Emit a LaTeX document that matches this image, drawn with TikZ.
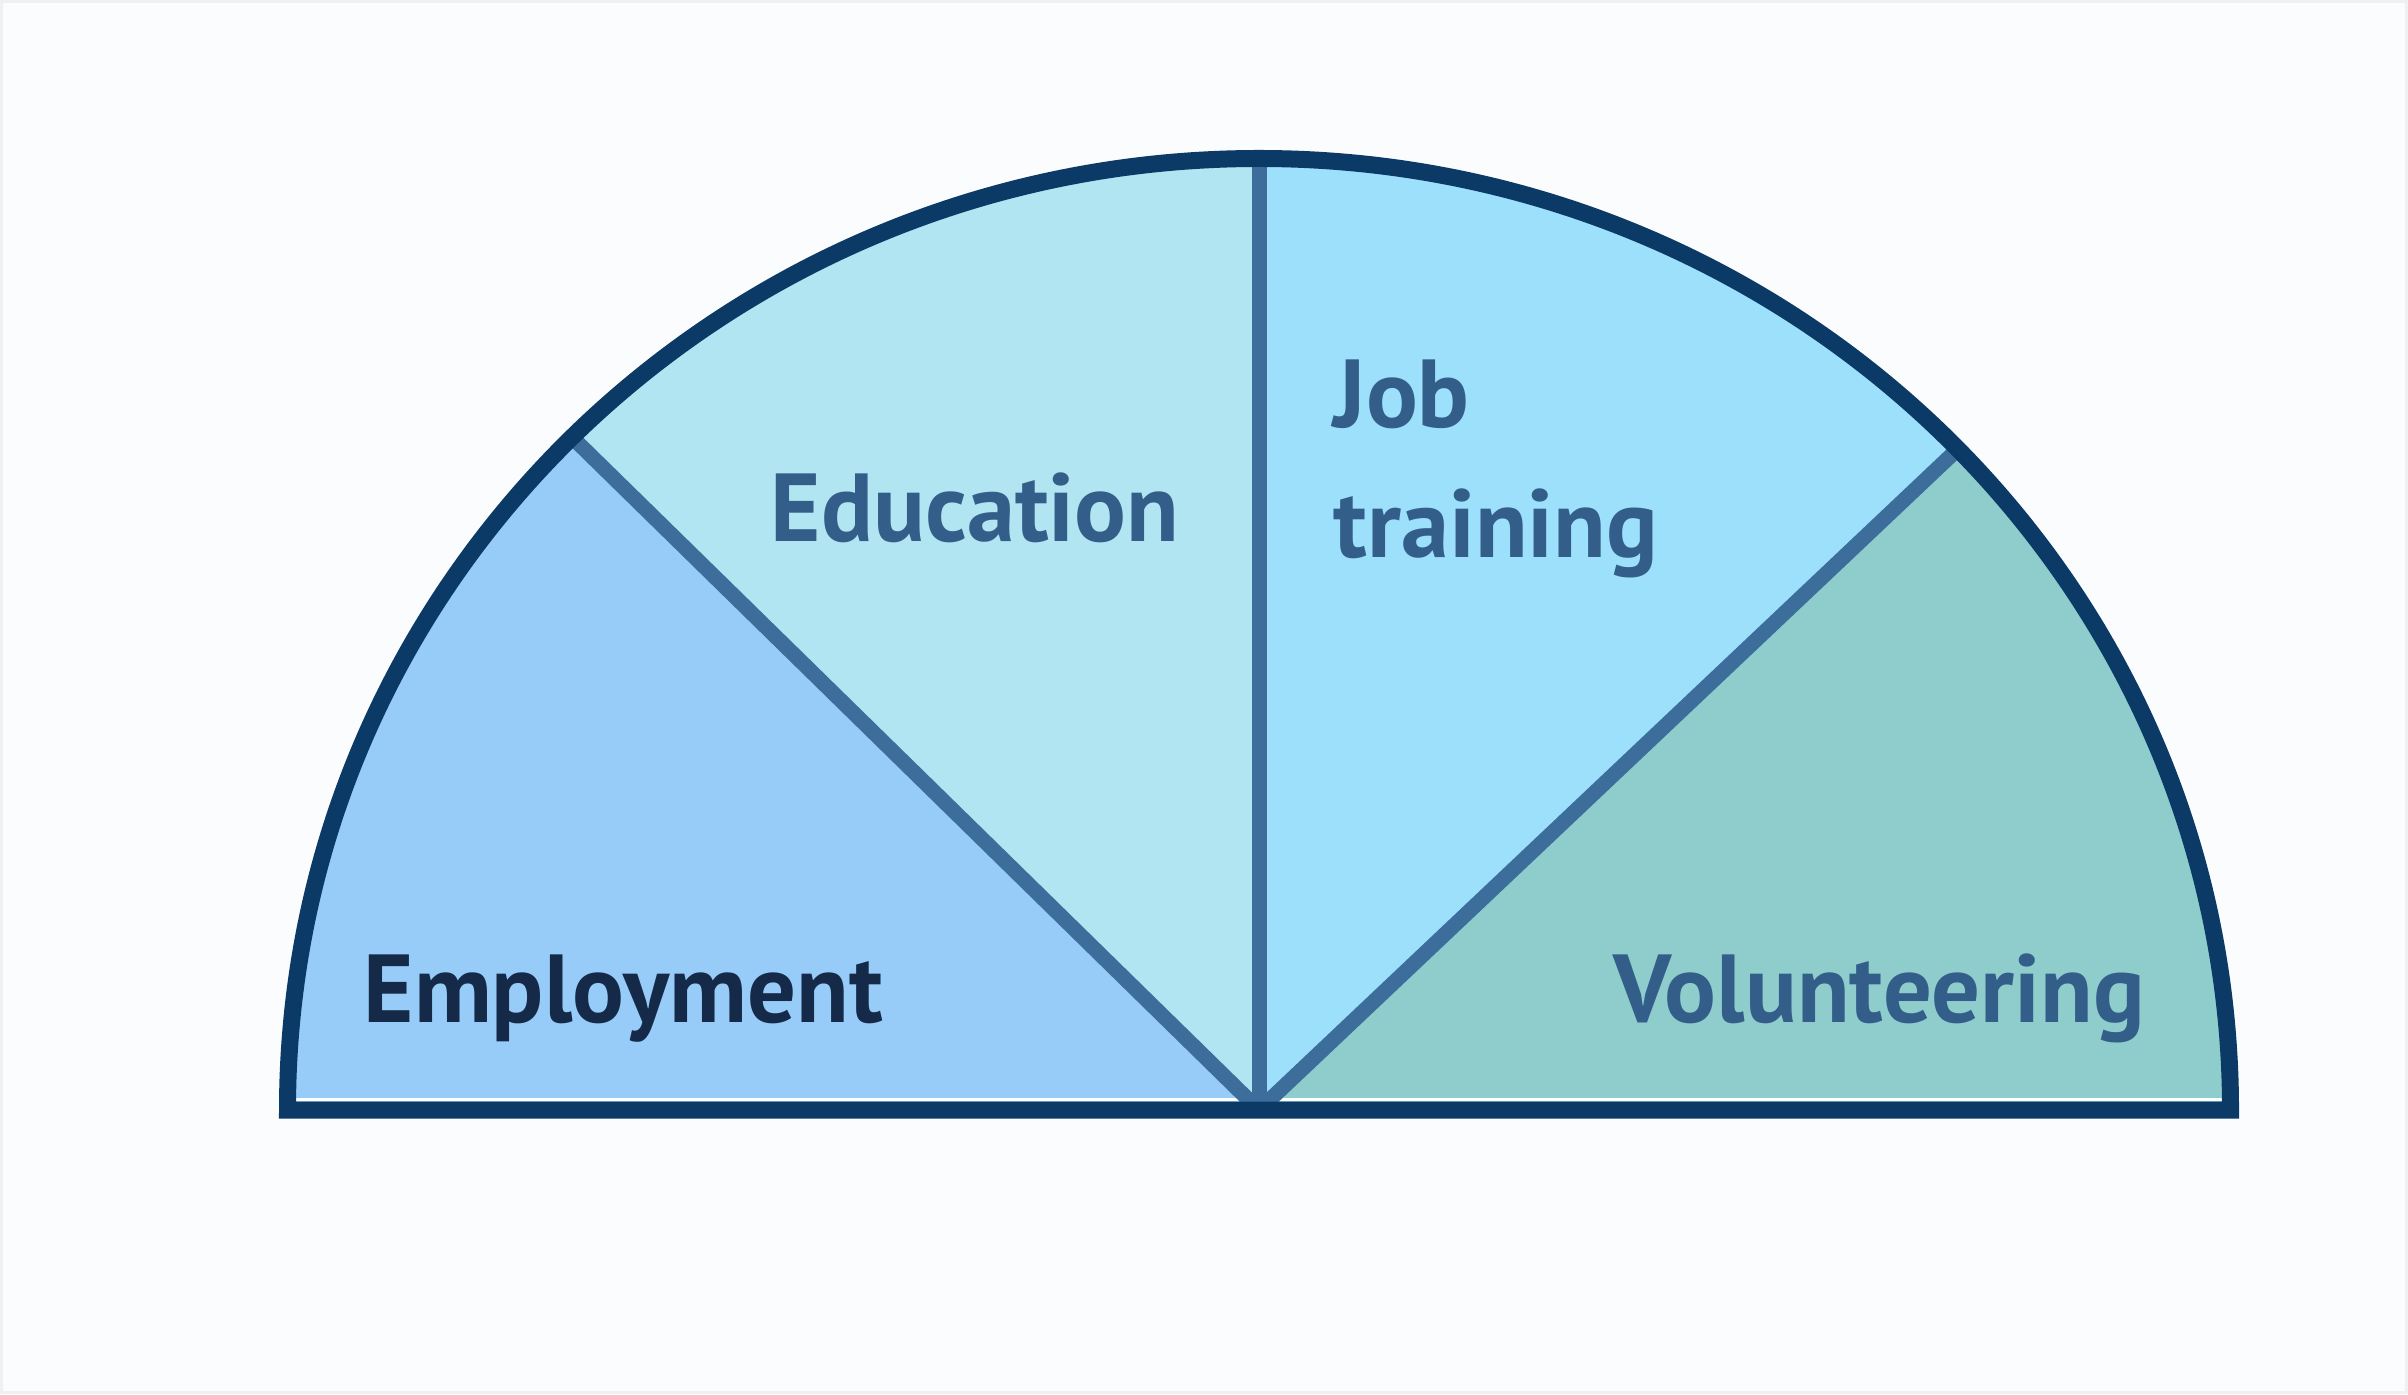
\documentclass[tikz,border=0pt]{standalone}
\usepackage{fontspec}
\setmainfont{PT Sans}
\usepackage{tikz}
\usetikzlibrary{positioning}
\definecolor{paper}{HTML}{FAFCFD}
\definecolor{frame}{HTML}{EEF0F2}
\definecolor{navy}{HTML}{0C3A66}
\definecolor{steel}{HTML}{3D6E9B}
\definecolor{empfill}{HTML}{97CBF8}
\definecolor{edufill}{HTML}{B0E5F1}
\definecolor{jobfill}{HTML}{9CE0FC}
\definecolor{volfill}{HTML}{8FCDCD}
\definecolor{inkdark}{HTML}{142A48}
\definecolor{inkblue}{HTML}{345E8A}
\tikzset{
    rim/.style={draw=navy, line width=0.17cm, line join=miter},
    divider/.style={draw=steel, line width=0.15cm},
    gap/.style={draw=white, line width=0.6pt},
    lbl/.style={anchor=base west, inner sep=0pt, font=\bfseries\fontsize{27.5}{33}\selectfont, text=inkblue}, % sector labels
    arcr/.style={x radius=9.715, y radius=9.515}
}

\begin{document}
\begin{tikzpicture}
        \useasboundingbox[fill=paper] (0,0) rectangle (24.08,13.94);
        \draw[frame, line width=0.03cm] (0.015,0.015) rectangle (24.065,13.925);
        \coordinate (O) at (12.59, 2.84);
        \path (O) ++(0:9.715 and 9.515) coordinate (p0);
        \path (O) ++(44:9.715 and 9.515) coordinate (p44);
        \path (O) ++(90:9.715 and 9.515) coordinate (p90);
        \path (O) ++(135:9.715 and 9.515) coordinate (p135);
        \path (O) ++(180:9.715 and 9.515) coordinate (p180);

        % sectors
        \fill[volfill] (O) -- (p0) arc[start angle=0, end angle=44, arcr] -- cycle;
        \fill[jobfill] (O) -- (p44) arc[start angle=44, end angle=90, arcr] -- cycle;
        \fill[edufill] (O) -- (p90) arc[start angle=90, end angle=135, arcr] -- cycle;
        \fill[empfill] (O) -- (p135) arc[start angle=135, end angle=180, arcr] -- cycle;

        \coordinate (gl) at (2.93, 2.945);
        \coordinate (gr) at (22.22, 2.945);
        \draw[gap] (gl) -- (gr);

        \draw[divider] (O) -- (p44);
        \draw[divider] (O) -- (p90);
        \draw[divider] (O) -- (p135);

        \draw[rim] (p0) arc[start angle=0, end angle=180, arcr] -- cycle;

        \node[lbl, text=inkdark] (employment) at (3.63, 3.71)
        {Employment};
        \node[lbl] (education) at (7.70, 8.52)
        {Education};
        \node[lbl] (job) at (13.33, 9.66)
        {Job};
        \node[lbl] (training) at (13.33, 8.36)
        {training};
        \node[lbl] (volunteering) at (16.13, 3.72)
        {Volunteering};
      \end{tikzpicture}
\end{document}
